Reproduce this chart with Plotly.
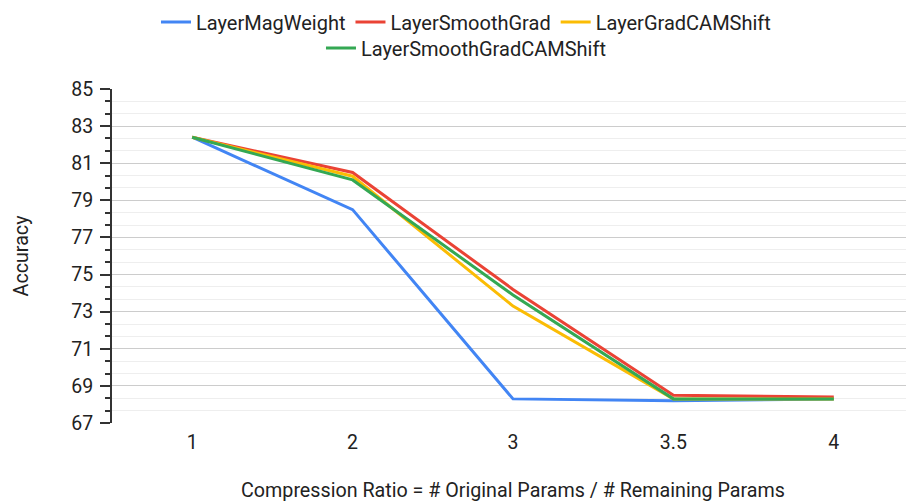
import plotly.graph_objects as go

# Compression ratios (categorical x axis)
ratios = ["1", "2", "3", "3.5", "4"]

# Accuracy per method
mag_weight = [82.4, 78.5, 68.3, 68.2, 68.3]
smooth_grad = [82.4, 80.5, 74.2, 68.5, 68.4]
gradcam_shift = [82.4, 80.3, 73.3, 68.3, 68.3]
smooth_gradcam_shift = [82.4, 80.1, 73.9, 68.3, 68.3]

y_ticks = [67, 69, 71, 73, 75, 77, 79, 81, 83, 85]

series = [
    ("LayerMagWeight", mag_weight, "#4285F4", "legend"),
    ("LayerSmoothGrad", smooth_grad, "#EA4335", "legend"),
    ("LayerGradCAMShift", gradcam_shift, "#FBBC04", "legend"),
    ("LayerSmoothGradCAMShift", smooth_gradcam_shift, "#34A853", "legend2"),
]

fig = go.Figure()
for name, vals, color, leg in series:
    fig.add_trace(go.Scatter(
        x=ratios, y=vals, mode="lines", name=name,
        line=dict(color=color, width=3), legend=leg,
    ))

txt = dict(family="Roboto, Arial, sans-serif", size=20, color="#222222")
title_txt = dict(family="Roboto, Arial, sans-serif", size=19.7, color="#222222")
tick_txt = dict(family="Roboto, Arial, sans-serif", size=19.5, color="#222222")
yrange = [y_ticks[0], y_ticks[-1]]

# page body has an 8px margin, so the figure is 8px smaller each way
fig.update_layout(
    width=906, height=495,
    margin=dict(l=104, r=0, t=81, b=80, autoexpand=False),
    paper_bgcolor="white", plot_bgcolor="white",
    font=txt,
    showlegend=True,
    legend=dict(orientation="h", xref="container", yref="container",
                x=0.5055, xanchor="center", y=0.9717, yanchor="middle",
                font=txt, itemwidth=30, bgcolor="rgba(0,0,0,0)"),
    legend2=dict(orientation="h", xref="container", yref="container",
                 x=0.5055, xanchor="center", y=0.919, yanchor="middle",
                 font=txt, itemwidth=30, bgcolor="rgba(0,0,0,0)"),
    xaxis=dict(
        type="category", range=[-0.5, 4.5], showgrid=False, zeroline=False,
        showline=False, ticks="", tickfont=tick_txt, ticklabelstandoff=5,
        title=dict(text="Compression Ratio = # Original Params / # Remaining Params",
                   font=title_txt, standoff=30),
    ),
    yaxis=dict(
        range=yrange, tickvals=y_ticks, showgrid=True, gridcolor="#cccccc",
        gridwidth=1, zeroline=False, showline=True, linecolor="#333333",
        linewidth=2, ticks="outside", ticklen=10, tickwidth=2, tickcolor="#333333",
        minor=dict(dtick=2 / 3, tick0=67, ticks="outside", ticklen=5, tickwidth=2,
                   tickcolor="#333333", showgrid=True, gridcolor="#eeeeee"),
        tickfont=tick_txt, ticklabelstandoff=3,
        title=dict(text="Accuracy", font=title_txt, standoff=37),
    ),
    yaxis2=dict(
        range=yrange, tickvals=y_ticks, overlaying="y", side="left", anchor="x",
        showgrid=False, zeroline=False, showline=False, showticklabels=False,
        ticks="inside", ticklen=10, tickwidth=2, tickcolor="#333333",
        minor=dict(dtick=2 / 3, tick0=67, ticks="inside", ticklen=5, tickwidth=2,
                   tickcolor="#333333", showgrid=False),
    ),
)

fig.write_html("out.html")
